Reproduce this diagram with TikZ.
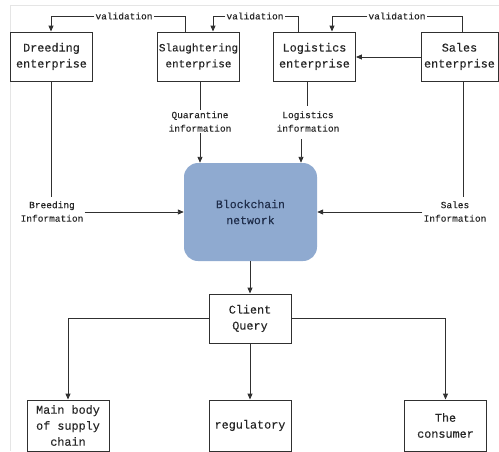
\documentclass[tikz,border=0pt]{standalone}
\usepackage{fontspec}
\setmonofont[FakeBold=0.15]{Liberation Mono}
\usetikzlibrary{arrows.meta}
\definecolor{chainblue}{HTML}{8FAAD0}
\definecolor{chaintext}{HTML}{1F2D4A}
\definecolor{linegray}{HTML}{303030}
\begin{document}
\begin{tikzpicture}[x=1pt,y=-1pt,
  box/.style={draw=linegray, line width=0.9pt, minimum width=82pt, minimum height=49pt,
    align=center, font=\fontsize{11.8}{16}\selectfont\ttfamily, inner sep=0pt, text=black!85},
  lbl/.style={font=\fontsize{9.5}{13.5}\selectfont\ttfamily, align=center, inner sep=1pt, text=black!85},
  arr/.style={draw=linegray, line width=0.9pt, -{Triangle[length=6pt,width=5pt]}},
  ln/.style={draw=linegray, line width=0.9pt}]
\useasboundingbox (0,0) rectangle (499,451);
\draw[gray!20, line width=0.8pt] (10,451) -- (10,5) -- (499,5);
% top boxes
\node[box] (dre) at (51.5,56.5) {Dreeding\\enterprise};
\node[box, font=\fontsize{11}{16}\selectfont\ttfamily] (sla) at (198.5,56.5) {Slaughtering\\enterprise};
\node[box] (log) at (314.5,56.5) {Logistics\\enterprise};
\node[box, minimum width=77pt] (sal) at (459.5,56.5) {Sales\\enterprise};
% blockchain
\node[fill=chainblue, rounded corners=14pt, minimum width=133pt, minimum height=98pt,
  align=center, font=\fontsize{11.5}{16}\selectfont\ttfamily, text=chaintext, inner sep=0pt]
  (bc) at (250.5,212) {Blockchain\\network};
% client query and bottom
\node[box] (cq) at (250,318.5) {Client\\Query};
\node[box, minimum height=51pt] (mb) at (68,425.5) {Main body\\of supply\\chain};
\node[box, minimum height=51pt] (reg) at (250,425.5) {regulatory};
\node[box, minimum height=51pt] (con) at (445.5,425.5) {The\\consumer};
% validation arrows
\coordinate (v1) at (185,16);
\coordinate (v2) at (298,16);
\coordinate (v3) at (462,16);
\node[lbl, fill=white] (vl1) at (124,16) {validation};
\node[lbl, fill=white] (vl2) at (255,16) {validation};
\node[lbl, fill=white] (vl3) at (397,16) {validation};
\draw[ln] (sla.north -| v1) -- (v1) -- (vl1.east);
\draw[arr] (vl1.west) -- (51,16) -- (dre.north -| 51,0);
\draw[ln] (log.north -| v2) -- (v2) -- (vl2.east);
\draw[arr] (vl2.west) -- (213,16) -- (sla.north -| 213,0);
\draw[ln] (sal.north -| v3) -- (v3) -- (vl3.east);
\draw[arr] (vl3.west) -- (332,16) -- (log.north -| 332,0);
\draw[arr] (sal.west |- 0,57) -- (log.east |- 0,57);
% info labels
\node[lbl] (qi) at (200,121.5) {Quarantine\\information};
\node[lbl] (li) at (308,121.5) {Logistics\\information};
\node[lbl] (bi) at (52,211.5) {Breeding\\Information};
\node[lbl] (si) at (455,211.5) {Sales\\Information};
\draw[ln] (sla.south -| qi) -- (qi.north);
\draw[arr] (qi.south) -- (bc.north -| qi);
\draw[ln] (log.south -| 307,0) -- (307,106);
\draw[arr] (301,139) -- (bc.north -| 301,0);
\draw[ln] (dre.south -| 51,0) -- (51,197);
\draw[arr] (bi.east |- 0,212) -- (bc.west |- 0,212);
\draw[ln] (sal.south -| 463,0) -- (463,197);
\draw[arr] (si.west |- 0,212) -- (bc.east |- 0,212);
% query
\draw[arr] (bc.south -| 250,0) -- (cq.north);
\draw[arr] (cq.west |- 0,318) -- (68,318) -- (mb.north);
\draw[arr] (cq.south) -- (reg.north);
\draw[arr] (cq.east |- 0,318) -- (445.5,318) -- (con.north);
\end{tikzpicture}
\end{document}
